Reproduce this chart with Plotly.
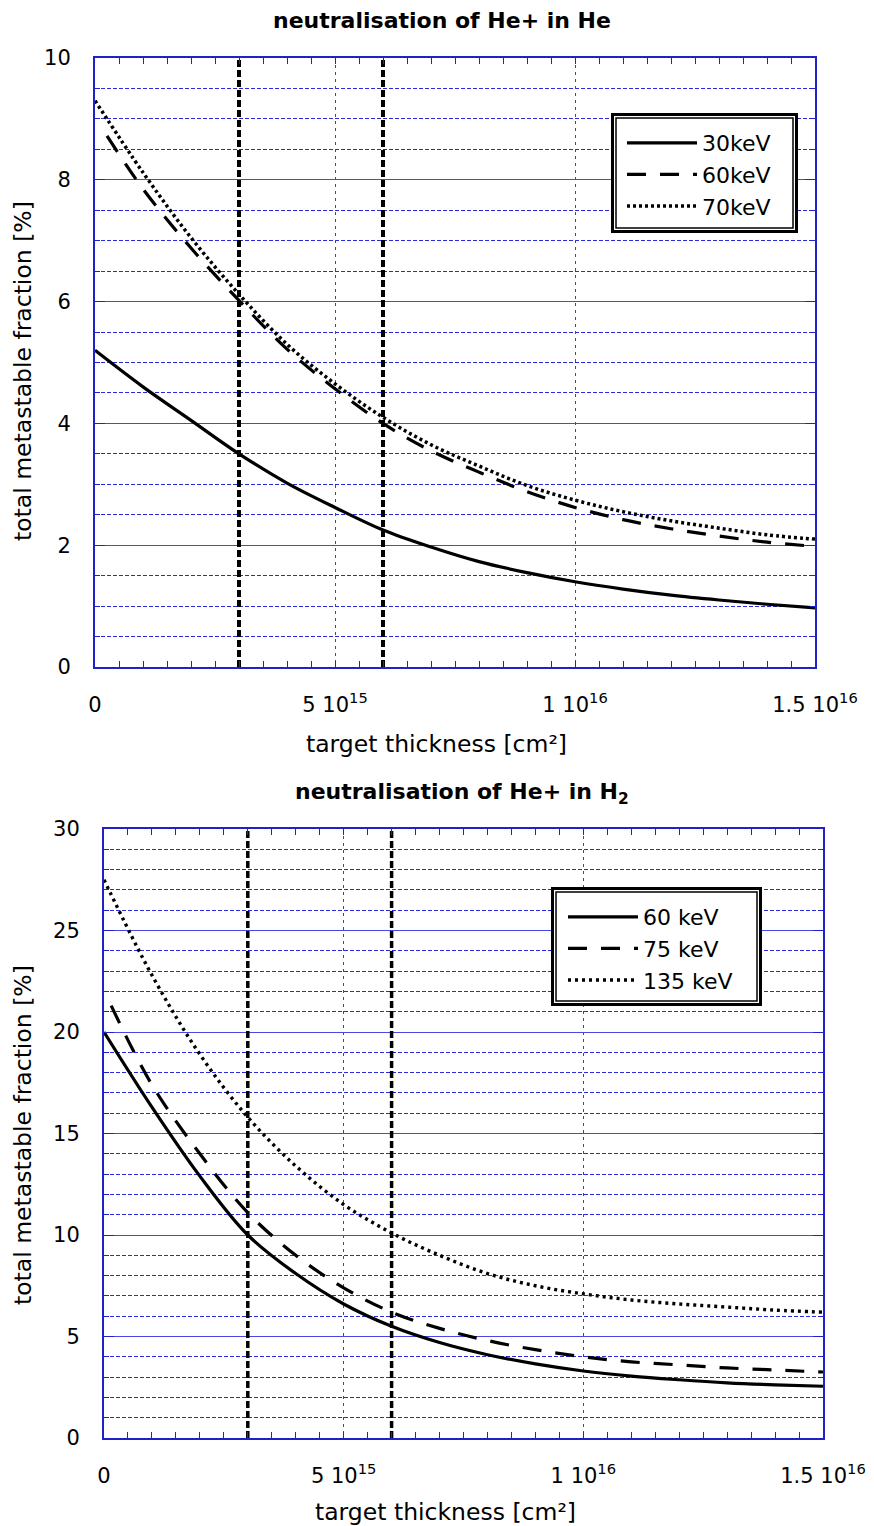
import plotly.graph_objects as go

W, H = 874, 1526

# ---------------- data: neutralisation of He+ in He ----------------
x_he = [0, 1e15, 2e15, 3e15, 4e15, 5e15, 6e15, 7e15, 8e15, 9e15,
        10e15, 11e15, 12e15, 13e15, 14e15, 15e15]
he_30kev = [5.2, 4.6, 4.05, 3.5, 3.02, 2.62, 2.25, 1.97, 1.73, 1.55,
            1.40, 1.28, 1.18, 1.10, 1.03, 0.97]
x_he_60 = [0.25e15, 1e15, 2e15, 3e15, 4e15, 5e15, 6e15, 7e15, 8e15, 9e15,
           10e15, 11e15, 12e15, 13e15, 14e15, 15e15]
he_60kev = [8.72, 7.85, 6.88, 6.02, 5.22, 4.57, 4.0, 3.55, 3.2, 2.88,
            2.62, 2.42, 2.27, 2.15, 2.05, 1.98]
he_70kev = [9.3, 8.12, 7.05, 6.12, 5.3, 4.65, 4.1, 3.65, 3.3, 2.98,
            2.74, 2.55, 2.4, 2.28, 2.17, 2.1]

# ---------------- data: neutralisation of He+ in H2 ----------------
x_h2 = [0, 1e15, 2e15, 3e15, 4e15, 5e15, 6e15, 7e15, 8e15, 9e15,
        10e15, 11e15, 12e15, 13e15, 14e15, 15e15]
h2_60kev = [20.0, 16.3, 12.9, 10.0, 8.1, 6.6, 5.5, 4.7, 4.1, 3.65,
            3.3, 3.05, 2.87, 2.72, 2.62, 2.55]
x_h2_75 = [0.15e15, 1e15, 2e15, 3e15, 4e15, 5e15, 6e15, 7e15, 8e15, 9e15,
           10e15, 11e15, 12e15, 13e15, 14e15, 15e15]
h2_75kev = [21.3, 17.4, 14.0, 11.1, 9.0, 7.4, 6.2, 5.4, 4.8, 4.35,
            4.0, 3.75, 3.6, 3.45, 3.35, 3.25]
h2_135kev = [27.5, 22.8, 18.9, 15.8, 13.4, 11.5, 10.1, 9.0, 8.1, 7.5,
             7.1, 6.8, 6.6, 6.45, 6.3, 6.2]

# reference thickness markers
marker_x = [3e15, 6e15]

# tick labels
x_tickvals = [0, 5e15, 1e16, 1.5e16]
x_ticktext = ["0", "5 10<sup>15</sup>", "1 10<sup>16</sup>", "1.5 10<sup>16</sup>"]


def px(x):
    return x / W


def py(y):
    return 1 - y / H


FONT = "DejaVu Sans"
BLUE = "#2020cc"
fig = go.Figure()

# ---- top panel curves ----
fig.add_trace(go.Scatter(x=x_he, y=he_30kev, name="30keV", mode="lines",
                         line=dict(color="black", width=3.2, shape="spline"),
                         xaxis="x", yaxis="y", legend="legend"))
fig.add_trace(go.Scatter(x=x_he_60, y=he_60kev, name="60keV", mode="lines",
                         line=dict(color="black", width=3.2, dash="19px,14px", shape="spline"),
                         xaxis="x", yaxis="y", legend="legend"))
fig.add_trace(go.Scatter(x=x_he, y=he_70kev, name="70keV", mode="lines",
                         line=dict(color="black", width=3.5, dash="3px,3px", shape="spline"),
                         xaxis="x", yaxis="y", legend="legend"))
for mx in marker_x:
    fig.add_trace(go.Scatter(x=[mx, mx], y=[0, 10], mode="lines", showlegend=False,
                             line=dict(color="black", width=4, dash="7px,3px"),
                             xaxis="x", yaxis="y", hoverinfo="skip"))

# ---- bottom panel curves ----
fig.add_trace(go.Scatter(x=x_h2, y=h2_60kev, name="60 keV", mode="lines",
                         line=dict(color="black", width=3.2, shape="spline"),
                         xaxis="x2", yaxis="y2", legend="legend2"))
fig.add_trace(go.Scatter(x=x_h2_75, y=h2_75kev, name="75 keV", mode="lines",
                         line=dict(color="black", width=3.2, dash="19px,14px", shape="spline"),
                         xaxis="x2", yaxis="y2", legend="legend2"))
fig.add_trace(go.Scatter(x=x_h2, y=h2_135kev, name="135 keV", mode="lines",
                         line=dict(color="black", width=3.4, dash="3px,4px", shape="spline"),
                         xaxis="x2", yaxis="y2", legend="legend2"))
for mx in marker_x:
    fig.add_trace(go.Scatter(x=[mx, mx], y=[0, 30], mode="lines", showlegend=False,
                             line=dict(color="black", width=3.5, dash="7px,3px"),
                             xaxis="x2", yaxis="y2", hoverinfo="skip"))

tickfont = dict(family=FONT, size=21, color="black")


def xaxis_cfg(domain, anchor):
    return dict(domain=domain, anchor=anchor, range=[0, 1.5e16],
                tickvals=x_tickvals, ticktext=x_ticktext, tickfont=tickfont,
                ticks="inside", ticklen=6, tickcolor=BLUE, tickwidth=1,
                showline=True, linecolor=BLUE, linewidth=2, mirror="ticks",
                showgrid=True, gridcolor="#3a3ae0", gridwidth=1, griddash="3px,4px",
                minor=dict(dtick=5e14, tick0=0, ticks="inside", ticklen=6,
                           tickcolor=BLUE, tickwidth=1, showgrid=False),
                zeroline=False, ticklabelstandoff=18, fixedrange=True,
                automargin=False)


def yaxis_cfg(domain, anchor, rng, dmaj, dmin):
    return dict(domain=domain, anchor=anchor, range=rng, dtick=dmaj, tick0=0,
                tickfont=tickfont, ticks="inside", ticklen=10, tickcolor=BLUE, tickwidth=1,
                showline=True, linecolor=BLUE, linewidth=2, mirror="ticks",
                showgrid=True, gridcolor="#4848e4", gridwidth=1.3,
                minor=dict(dtick=dmin, tick0=0, ticks="inside", ticklen=5, tickcolor=BLUE,
                           showgrid=True, gridcolor="#2a2ad6", gridwidth=1,
                           griddash="4px,2px"),
                zeroline=False, ticklabelstandoff=18, fixedrange=True,
                automargin=False)


top_x = [px(95), px(815)]
top_y = [py(667), py(58)]
bot_x = [px(104), px(823)]
bot_y = [py(1438), py(829)]

legfont = dict(family=FONT, size=22, color="black")
fig.update_layout(
    width=W, height=H,
    margin=dict(l=0, r=0, t=0, b=0, pad=0, autoexpand=False),
    paper_bgcolor="white", plot_bgcolor="white",
    xaxis=xaxis_cfg(top_x, "y"),
    yaxis=yaxis_cfg(top_y, "x", [0, 10], 2, 0.5),
    xaxis2=xaxis_cfg(bot_x, "y2"),
    yaxis2=yaxis_cfg(bot_y, "x2", [0, 30], 5, 1),
    legend=dict(x=px(622), y=py(122), xanchor="left", yanchor="top",
                bgcolor="rgba(0,0,0,0)", borderwidth=0, font=legfont,
                itemwidth=70, tracegroupgap=0),
    legend2=dict(x=px(563), y=py(896), xanchor="left", yanchor="top",
                 bgcolor="rgba(0,0,0,0)", borderwidth=0, font=legfont,
                 itemwidth=70, tracegroupgap=0),
    showlegend=True,
)


# double-bordered legend boxes
def legend_box(x0, y0, x1, y1):
    fig.add_shape(type="rect", xref="paper", yref="paper", layer="above",
                  x0=px(x0 + 1.5), x1=px(x1 - 1.5), y0=py(y0 + 1.5), y1=py(y1 - 1.5),
                  line=dict(color="black", width=3), fillcolor="white")
    fig.add_shape(type="rect", xref="paper", yref="paper", layer="above",
                  x0=px(x0 + 5), x1=px(x1 - 5), y0=py(y0 + 5), y1=py(y1 - 5),
                  line=dict(color="black", width=1.5), fillcolor="rgba(0,0,0,0)")


legend_box(611, 113, 798, 233)
legend_box(551, 887, 762, 1006)

titlefont = dict(family=FONT, size=22, color="black", weight="bold")
axfont = dict(family=FONT, size=23.5, color="black")
ann = [
    dict(text="neutralisation of He+ in He", x=px(442), y=py(20), font=titlefont),
    dict(text="neutralisation of He+ in H<sub>2</sub>", x=px(462), y=py(793), font=titlefont),
    dict(text="target thickness [cm²]", x=px(436), y=py(744), font=axfont),
    dict(text="target thickness [cm²]", x=px(445), y=py(1512), font=axfont),
    dict(text="total metastable fraction [%]", x=px(23), y=py(371), font=axfont, textangle=-90),
    dict(text="total metastable fraction [%]", x=px(23), y=py(1135), font=axfont, textangle=-90),
]
for a in ann:
    fig.add_annotation(xref="paper", yref="paper", showarrow=False,
                       xanchor="center", yanchor="middle", **a)

fig.write_html("out.html")
